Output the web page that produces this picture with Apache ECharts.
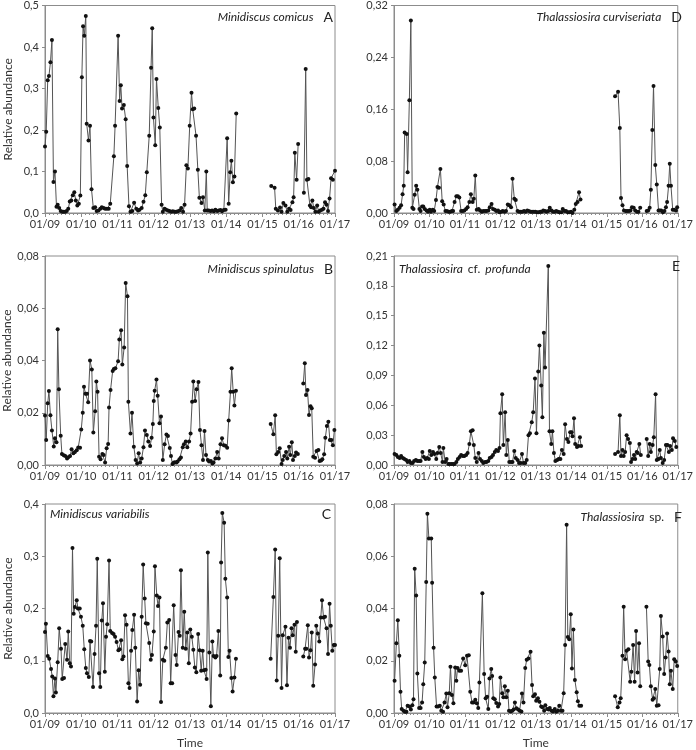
<!DOCTYPE html>
<html>
<head>
<meta charset="utf-8">
<script src="https://cdn.jsdelivr.net/npm/echarts@6/dist/echarts.min.js"></script>
<style>
html,body{margin:0;padding:0;background:#fff;}
#c{width:696px;height:750px;}
</style>
</head>
<body>
<div id="c"></div>
<script>
// Time in months since 01/2009; null marks a gap in sampling
const yearLabels = ['01/09','01/10','01/11','01/12','01/13','01/14','01/15','01/16','01/17'];

const comicus = [[0,0.16],[0.4,0.196],[0.9,0.32],[1.3,0.33],[1.8,0.363],[2.3,0.417],[2.8,0.075],[3.3,0.1],[3.8,0.015],[4.2,0.02],[4.7,0.012],[5.2,0.005],[5.7,0.003],[6.2,0.003],[6.7,0.003],[7.2,0.005],[7.7,0.01],[8.2,0.028],[8.7,0.03],[9.2,0.043],[9.7,0.05],[10.2,0.03],[10.7,0.018],[11.2,0.022],[11.7,0.042],[12.2,0.327],[12.6,0.45],[13,0.427],[13.5,0.475],[13.8,0.215],[14.4,0.175],[14.9,0.21],[15.4,0.057],[16,0.012],[16.6,0.014],[17.1,0.005],[17.7,0.006],[18.3,0.01],[18.8,0.014],[19.4,0.012],[19.9,0.01],[20.5,0.01],[21.1,0.01],[21.6,0.022],[22.8,0.137],[23.2,0.21],[24.2,0.427],[24.7,0.27],[25.1,0.308],[25.5,0.252],[26.1,0.26],[26.7,0.226],[27.2,0.113],[27.8,0.016],[28.3,0.003],[28.9,0.005],[29.5,0.025],[30.2,0.01],[30.8,0.006],[31.3,0.008],[32,0.012],[32.6,0.027],[33.2,0.043],[33.7,0.098],[34.5,0.186],[35.1,0.35],[35.5,0.445],[35.9,0.23],[36.5,0.163],[36.9,0.323],[37.5,0.253],[38,0.206],[38.6,0.02],[39,0.003],[39.6,0.01],[40.1,0.008],[40.7,0.006],[41.2,0.005],[41.8,0.003],[42.3,0.004],[42.9,0.003],[43.4,0.003],[44,0.004],[44.6,0.006],[45.1,0.012],[45.7,0.003],[46.2,0.02],[46.8,0.115],[47.3,0.107],[47.9,0.21],[48.5,0.29],[48.9,0.25],[49.4,0.252],[50,0.186],[50.6,0.104],[51.1,0.037],[51.8,0.024],[52.3,0.038],[52.9,0.006],[53.4,0.1],[53.7,0.006],[54.2,0.006],[54.8,0.005],[55.3,0.006],[55.9,0.004],[56.4,0.008],[57,0.005],[57.5,0.006],[58.1,0.007],[58.6,0.004],[59.2,0.007],[59.8,0.008],[60.3,0.18],[60.8,0.022],[61.3,0.098],[61.7,0.126],[62.2,0.074],[62.7,0.088],[63.3,0.24],[68,null],[74.9,0.065],[76,0.061],[76.4,0.01],[77.1,0.006],[77.8,0.013],[78.3,0.003],[78.9,0.024],[79.6,0.018],[80.2,0.003],[80.8,0.01],[81.3,0.007],[81.9,0.026],[82.3,0.038],[82.7,0.145],[83.3,0.08],[83.8,0.166],[84.7,null],[85.7,0.049],[86.3,0.347],[86.7,0.08],[87.2,0.082],[87.7,0.018],[88.1,0.014],[88.5,0.03],[89,0.012],[89.5,0.003],[90.1,0.018],[90.6,0.003],[91.1,0.006],[91.7,0.008],[92.2,0.01],[92.7,0.026],[93.2,0.02],[93.7,0.005],[94.2,0.035],[94.7,0.084],[95.3,0.08],[96,0.102]];

const spinulatus = [[0,0.0189],[0.4,0.0096],[0.9,0.0236],[1.3,0.0283],[1.8,0.019],[2.3,0.0132],[2.9,0.0071],[3.3,0.0102],[3.8,0.0087],[4.2,0.052],[4.6,0.029],[5.2,0.0112],[5.6,0.0042],[6.2,0.0037],[6.7,0.0034],[7.3,0.0025],[7.7,0.003],[8.3,0.0034],[8.8,0.006],[9.4,0.0045],[9.9,0.005],[10.5,0.0056],[11,0.0067],[11.6,0.0066],[12,0.0136],[12.5,0.02],[12.9,0.03],[13.4,0.0273],[13.9,0.0273],[14.3,0.024],[14.9,0.04],[15.5,0.0366],[16,0.0124],[16.6,0.0206],[17,0.032],[17.4,0.028],[17.9,0.0032],[18.4,0.0022],[19,0.0042],[19.4,0.0038],[19.9,0.001],[20.4,0.0064],[20.9,0.008],[21.2,0.022],[21.7,0.0287],[22.4,0.036],[22.8,0.0367],[23.3,0.037],[24.2,0.0397],[24.6,0.048],[25.2,0.0516],[25.6,0.0385],[26.2,0.045],[26.7,0.0697],[27.3,0.0646],[27.6,0.0242],[28.3,0.0121],[28.8,0.02],[29.4,0.007],[30,0.0019],[30.5,0.0006],[31,0.0045],[31.5,0.001],[32,0.0025],[32.6,0.0068],[33.1,0.0132],[33.7,0.0115],[34.2,0.009],[34.8,0.0073],[35.3,0.0104],[35.7,0.0157],[36,0.0245],[36.3,0.0284],[36.9,0.0327],[37.3,0.0265],[37.9,0.016],[38.4,0.0186],[39,0.0019],[39.6,0.0079],[40.2,0.0117],[40.7,0.0111],[41.3,0.0065],[41.7,0.0034],[42.2,0.0004],[42.6,0.0009],[43,0.0011],[43.5,0.001],[43.9,0.0013],[44.5,0.0022],[45,0.0029],[45.6,0.0068],[46,0.0079],[46.6,0.009],[47.1,0.0068],[47.7,0.009],[48.2,0.0121],[48.7,0.0242],[49.1,0.032],[49.7,0.0245],[50.2,0.029],[50.8,0.0318],[51.3,0.0134],[51.8,0.0076],[52.3,0.0019],[52.8,0.013],[53.3,0.0038],[53.9,0.0019],[54.3,0.0013],[54.9,0.0015],[55.4,0.0006],[55.8,0.001],[56.4,0.0025],[57,0.005],[57.5,0.0025],[58.1,0.0079],[58.6,0.0102],[59.2,0.0076],[59.7,0.0074],[60.3,0.0066],[60.8,0.017],[61.4,0.028],[61.8,0.037],[62.3,0.028],[62.7,0.0228],[63.2,0.0284],[68,null],[74.7,0.0157],[75.6,0.0118],[76.2,0.019],[76.6,0.0041],[77.2,0.005],[77.7,0.0064],[78.3,0.0004],[78.7,0.0019],[79.2,0.0034],[79.8,0.005],[80.2,0.0025],[80.8,0.007],[81.2,0.0038],[81.7,0.0087],[82.1,0.0019],[82.7,0.0034],[83.1,0.0048],[83.7,0.0042],[84.6,null],[85.5,0.0312],[86,0.0389],[86.4,0.0268],[86.9,0.0287],[87.4,0.0191],[87.9,0.0225],[88.3,0.0217],[88.8,0.0032],[89.4,0.0028],[89.9,0.0054],[90.5,0.0057],[90.9,0.0015],[91.4,0.0017],[91.8,0.0022],[92.4,0.0041],[92.8,0.0104],[93.3,0.0149],[93.8,0.0166],[94.3,0.0096],[94.8,0.0096],[95.3,0.0076],[95.8,0.0134]];

const variabilis = [[0,0.155],[0.3,0.171],[0.9,0.109],[1.4,0.104],[2,0.084],[2.4,0.07],[2.8,0.032],[3.3,0.066],[3.6,0.039],[4.2,0.097],[4.7,0.162],[5.3,0.123],[5.7,0.065],[6.3,0.067],[6.7,0.132],[7.3,0.102],[7.7,0.156],[8.2,0.095],[8.6,0.089],[9.1,0.316],[9.5,0.19],[9.9,0.203],[10.5,0.216],[10.9,0.2],[11.5,0.2],[11.9,0.184],[12.5,0.167],[13,0.122],[13.5,0.086],[13.9,0.076],[14.5,0.069],[14.9,0.138],[15.3,0.137],[15.9,0.05],[16.4,0.113],[16.9,0.167],[17.3,0.295],[17.9,0.076],[18.3,0.05],[18.8,0.177],[19.2,0.21],[19.8,0.079],[20.2,0.146],[20.6,0.17],[21.2,0.292],[21.6,0.157],[22.2,0.153],[22.7,0.151],[23.2,0.146],[23.7,0.136],[24.3,0.12],[24.7,0.122],[25.2,0.139],[25.6,0.103],[26,0.108],[26.5,0.187],[27,0.169],[27.6,0.057],[28,0.048],[28.5,0.119],[28.9,0.159],[29.5,0.188],[29.9,0.125],[30.5,0.022],[31,0.082],[31.5,0.054],[32,0.184],[32.5,0.284],[33,0.219],[33.4,0.172],[34,0.171],[34.5,0.134],[35,0.102],[35.4,0.111],[36,0.156],[36.4,0.281],[37,0.225],[37.4,0.205],[37.9,0.221],[38.4,0.021],[39,0.102],[39.5,0.1],[40,0.125],[40.5,0.173],[41.1,0.178],[41.6,0.057],[42.1,0.057],[42.6,0.206],[43.2,0.111],[43.6,0.092],[44.2,0.155],[44.6,0.148],[45,0.273],[45.6,0.125],[46.1,0.194],[46.6,0.123],[47.1,0.154],[47.6,0.095],[48.1,0.16],[48.6,0.146],[49.1,0.121],[49.6,0.087],[50.1,0.078],[50.7,0.151],[51.2,0.12],[51.7,0.081],[52.2,0.119],[52.6,0.082],[53.2,0.083],[53.5,0.065],[53.9,0.307],[54.4,0.116],[54.9,0.013],[55.4,0.137],[55.8,0.109],[56.4,0.106],[56.8,0.109],[57.4,0.157],[58,0.072],[58.3,0.288],[58.7,0.383],[59.3,0.364],[59.7,0.257],[60.3,0.221],[60.7,0.107],[61.1,0.119],[61.7,0.067],[62.1,0.041],[62.7,0.068],[63.2,0.104],[68,null],[74.7,0.104],[75.6,0.222],[76.2,0.313],[76.7,0.062],[77.2,0.148],[77.7,0.296],[78.3,0.048],[78.7,0.149],[79.6,0.165],[80.1,0.053],[80.6,0.144],[81.1,0.125],[81.6,0.162],[82,0.149],[82.6,0.169],[83,0.117],[83.4,0.174],[84.4,null],[85.5,0.108],[86.1,0.123],[86.5,0.123],[87,0.168],[87.4,0.106],[87.9,0.12],[88.3,0.154],[88.8,0.052],[89.4,0.093],[89.8,0.167],[90.3,0.152],[90.8,0.137],[91.3,0.183],[91.7,0.216],[92.2,0.183],[92.7,0.184],[93.2,0.162],[93.7,0.113],[94.2,0.209],[94.6,0.167],[95.1,0.119],[95.6,0.13],[96,0.13]];

const curviseriata = [[0.2,0.013],[0.8,0.003],[1.3,0.005],[1.9,0.008],[2.4,0.012],[2.9,0.029],[3.3,0.042],[3.6,0.124],[4.3,0.122],[4.6,0.063],[5.2,0.174],[5.7,0.297],[6.2,0.008],[6.6,0.006],[7,0.028],[7.5,0.042],[7.9,0.036],[8.6,0.006],[9,0.003],[9.5,0.01],[9.9,0.01],[10.4,0.006],[11,0.004],[11.5,0.002],[12.1,0.005],[12.5,0.002],[13.1,0.005],[13.6,0.003],[14.2,0.02],[14.7,0.04],[15.2,0.039],[15.7,0.068],[16.3,0.018],[16.8,0.013],[17.4,0.003],[17.9,0.003],[18.5,0.002],[19,0.002],[19.6,0.003],[20,0.003],[20.5,0.017],[21.1,0.026],[21.6,0.026],[22.1,0.024],[22.7,0.003],[23.3,0.003],[23.8,0.004],[24.4,0.006],[24.9,0.009],[25.5,0.017],[26,0.029],[26.6,0.017],[27,0.022],[27.5,0.058],[28,0.005],[28.6,0.006],[29.1,0.004],[29.7,0.002],[30.2,0.003],[30.8,0.003],[31.3,0.003],[31.9,0.004],[32.4,0.009],[33,0.014],[33.5,0.006],[34.1,0.005],[34.6,0.003],[35.2,0.004],[35.7,0.001],[36.3,0.002],[36.8,0.003],[37.4,0.002],[37.9,0.003],[38.5,0.013],[39,0.012],[39.6,0.009],[40.1,0.053],[40.7,0.022],[41.2,0.02],[41.8,0.003],[42.3,0.002],[42.9,0.002],[43.4,0.002],[44,0.003],[44.5,0.002],[45.1,0.004],[45.6,0.003],[46.2,0.002],[46.7,0.002],[47.3,0.002],[47.8,0.002],[48.4,0.001],[48.9,0.001],[49.5,0.002],[50,0.002],[50.5,0.004],[51.1,0.003],[51.6,0.002],[52.2,0.003],[52.7,0.008],[53.3,0.004],[53.8,0.002],[54.4,0.002],[54.9,0.003],[55.5,0.002],[56,0.001],[56.6,0.001],[57.1,0.006],[57.7,0.003],[58.2,0.003],[58.8,0.001],[59.3,0.001],[59.9,0.002],[60.4,0.0],[61,0.005],[61.5,0.014],[62.1,0.017],[62.6,0.032],[63.1,0.021],[68,null],[74.8,0.18],[75.8,0.187],[76.4,0.131],[76.8,0.023],[77.3,0.012],[77.8,0.004],[78.4,0.003],[78.9,0.003],[79.5,0.003],[80,0.004],[80.5,0.009],[81.1,0.008],[81.6,0.004],[82.2,0.002],[82.7,0.002],[83.3,0.008],[84.4,null],[85.5,0.003],[86,0.004],[86.5,0.008],[86.9,0.036],[87.4,0.128],[87.8,0.196],[88.4,0.074],[88.9,0.044],[89.5,0.004],[89.9,0.004],[90.4,0.004],[91,0.001],[91.5,0.003],[92,0.009],[92.4,0.017],[92.9,0.042],[93.3,0.076],[93.7,0.042],[94.3,0.005],[94.8,0.005],[95.4,0.004],[95.8,0.009]];

const profunda = [[0.2,0.011],[0.8,0.01],[1.3,0.008],[1.9,0.007],[2.4,0.009],[3,0.007],[3.5,0.006],[4.1,0.005],[4.6,0.003],[5.2,0.004],[5.7,0.002],[6.3,0.002],[6.8,0.004],[7.4,0.005],[7.9,0.004],[8.5,0.004],[9,0.004],[9.6,0.013],[10.1,0.008],[10.7,0.006],[11.2,0.007],[11.8,0.006],[12.1,0.014],[12.6,0.01],[13.2,0.013],[13.7,0.011],[14.3,0.006],[14.7,0.012],[15.3,0.018],[15.8,0.012],[16.4,0.003],[16.7,0.017],[17.3,0.003],[17.8,0.006],[18.4,0.001],[18.9,0.001],[19.5,0.001],[20,0.001],[20.5,0.001],[21.1,0.003],[21.6,0.006],[22.2,0.008],[22.7,0.01],[23.3,0.009],[23.8,0.009],[24.4,0.01],[24.9,0.012],[25.5,0.021],[26,0.034],[26.6,0.035],[27,0.02],[27.5,0.007],[28,0.003],[28.6,0.012],[29.1,0.006],[29.7,0.004],[30.2,0.002],[30.8,0.003],[31.3,0.003],[31.9,0.004],[32.4,0.007],[33,0.008],[33.5,0.01],[34.1,0.013],[34.6,0.015],[35.2,0.014],[35.7,0.017],[36,0.052],[36.6,0.071],[37,0.02],[37.6,0.053],[38,0.01],[38.5,0.025],[39,0.003],[39.6,0.003],[40.1,0.003],[40.7,0.014],[41.2,0.007],[41.8,0.005],[42.3,0.002],[42.9,0.002],[43.3,0.011],[43.8,0.002],[44.4,0.002],[44.9,0.005],[45.5,0.03],[46,0.032],[46.6,0.043],[47.1,0.053],[47.7,0.087],[48.2,0.032],[48.8,0.094],[49.2,0.12],[49.8,0.08],[50.2,0.048],[50.7,0.133],[51.1,0.098],[52.2,0.2],[52.6,0.034],[53.2,0.021],[53.6,0.034],[54.1,0.012],[54.6,0.004],[55.2,0.005],[55.7,0.006],[56.3,0.006],[56.8,0.015],[57.4,0.011],[57.9,0.041],[58.5,0.026],[59,0.023],[59.6,0.033],[60.1,0.033],[60.4,0.029],[60.9,0.047],[61.3,0.021],[61.9,0.018],[62.4,0.019],[62.9,0.028],[63.3,0.019],[68,null],[74.8,0.011],[75.8,0.013],[76.4,0.05],[76.8,0.009],[77.3,0.015],[77.7,0.009],[78.2,0.013],[78.7,0.03],[79.2,0.026],[79.8,0.022],[80.2,0.003],[80.7,0.006],[81.2,0.01],[81.6,0.006],[82.1,0.013],[82.5,0.012],[83,0.021],[83.5,0.01],[84.5,null],[85.5,0.026],[86,0.009],[86.5,0.021],[86.9,0.013],[87.5,0.02],[87.9,0.028],[88.5,0.071],[88.9,0.005],[89.5,0.006],[89.9,0.015],[90.3,0.007],[90.9,0.002],[91.4,0.005],[92,0.02],[92.5,0.02],[93,0.013],[93.4,0.019],[94,0.015],[94.4,0.027],[95,0.024],[95.5,0.018]];

const thalSp = [[0.2,0.0123],[0.8,0.0267],[1.3,0.0355],[1.8,0.0219],[2.2,0.0081],[2.6,0.0015],[3.2,0.0009],[3.7,0.0005],[4.2,0.0005],[4.6,0.0028],[5.2,0.0025],[5.7,0.0013],[6.2,0.003],[6.6,0.0053],[7,0.0552],[7.5,0.045],[7.9,0.0151],[8.5,0.0019],[9,0.0019],[9.5,0.004],[9.9,0.011],[10.4,0.0193],[10.9,0.0501],[11.3,0.0763],[11.8,0.0668],[12.6,0.0668],[12.9,0.0499],[13.4,0.025],[13.8,0.0136],[14.4,0.0025],[14.9,0.0025],[15.5,0.0028],[16,0.0009],[16.6,0.0005],[17.1,0.004],[17.7,0.0075],[18.1,0.0022],[18.7,0.0076],[19.1,0.0177],[19.6,0.0069],[20.1,0.0037],[20.7,0.0174],[21.1,0.0123],[21.5,0.0172],[22.1,0.0162],[22.7,0.0162],[23.4,0.0209],[24.1,0.0183],[24.7,0.0219],[25.3,0.0221],[25.8,0.0081],[26.4,0.004],[26.9,0.004],[27.5,0.0051],[28,0.0037],[28.5,0.0019],[28.9,0.0117],[29.9,0.0458],[30.5,0.0149],[31,0.0056],[31.5,0.0062],[31.9,0.0015],[32.3,0.0132],[32.9,0.0168],[33.2,0.0142],[33.6,0.0056],[34.1,0.0053],[34.6,0.0038],[35.2,0.0025],[35.6,0.0034],[36,0.0136],[36.6,0.0076],[37,0.006],[37.5,0.0102],[38,0.006],[38.5,0.0085],[38.9,0.0009],[39.5,0.0006],[40,0.0009],[40.5,0.0013],[40.9,0.004],[41.4,0.0018],[42,0.0013],[42.5,0.0009],[43.1,0.0006],[43.3,0.0075],[43.8,0.004],[44.4,0.0172],[44.9,0.0204],[45.5,0.0209],[46.2,0.0234],[46.7,0.0107],[47.1,0.0064],[47.7,0.0072],[48.1,0.0047],[48.7,0.0056],[49.2,0.0043],[49.8,0.0025],[50.2,0.0022],[50.8,0.0009],[51.2,0.003],[51.8,0.0015],[52.3,0.0013],[52.7,0.0019],[53.3,0.0009],[53.8,0.0006],[54.4,0.0015],[54.9,0.0005],[55.5,0.0009],[55.9,0.0028],[56.5,0.0009],[57,0.0009],[57.4,0.0076],[57.9,0.026],[58.4,0.0721],[58.8,0.0291],[59.3,0.0282],[59.8,0.0378],[60.2,0.017],[60.7,0.032],[61.2,0.0126],[61.8,0.0079],[62.2,0.0045],[62.7,0.0028],[63.3,0.0028],[68,null],[74.8,0.0064],[75.7,0.0022],[76.3,0.004],[76.7,0.0056],[77.3,0.0219],[77.7,0.0407],[78.2,0.0206],[78.7,0.0238],[79.3,0.0244],[79.9,0.012],[80.3,0.0158],[80.9,0.026],[81.4,0.012],[81.9,0.0314],[82.4,0.0155],[82.9,0.0267],[83.3,0.0102],[84.4,null],[85.4,0.0407],[86,0.0197],[86.4,0.0184],[86.9,0.0102],[87.5,0.0051],[87.9,0.0056],[88.4,0.0092],[88.9,0.0028],[89.5,0.003],[89.9,0.0168],[90.3,0.0371],[90.9,0.0293],[91.4,0.0149],[91.9,0.0212],[92.4,0.0304],[92.9,0.0235],[93.3,0.011],[93.7,0.0162],[94.3,0.0092],[94.8,0.0206],[95.3,0.0197],[95.8,0.018]];

const FONT = 'Lato';
const AX = '#8c8c8c';
const LBL = '#333';

const panels = [
  {data: comicus, max: 0.5, interval: 0.1, dec: 1, grid: 0},
  {data: spinulatus, max: 0.08, interval: 0.02, dec: 2, grid: 1},
  {data: variabilis, max: 0.4, interval: 0.1, dec: 1, grid: 2},
  {data: curviseriata, max: 0.32, interval: 0.08, dec: 2, grid: 3},
  {data: profunda, max: 0.21, interval: 0.03, dec: 2, grid: 4},
  {data: thalSp, max: 0.08, interval: 0.02, dec: 2, grid: 5}
];

const grids = [
  {left: 45, top: 4, width: 290, height: 209},
  {left: 45, top: 256, width: 290, height: 209},
  {left: 45, top: 504, width: 290, height: 210},
  {left: 394, top: 4, width: 291, height: 209},
  {left: 394, top: 256, width: 291, height: 209},
  {left: 394, top: 504, width: 291, height: 210}
].map(g => Object.assign({show: true, borderColor: AX, borderWidth: 1, backgroundColor: 'transparent'}, g));

const xAxes = grids.map((g, i) => ({
  type: 'value', gridIndex: i, min: 0, max: 96, interval: 12,
  axisLine: {show: true, lineStyle: {color: AX}},
  axisTick: {show: true, length: 4, lineStyle: {color: AX}},
  minorTick: {show: true, splitNumber: 9, length: 2, lineStyle: {color: AX}},
  splitLine: {show: false},
  axisLabel: {color: LBL, fontFamily: FONT, fontSize: 11, margin: 6,
    formatter: v => yearLabels[Math.round(v / 12)]},
  name: (i === 2 || i === 5) ? 'Time' : '',
  nameLocation: 'middle', nameGap: 24,
  nameTextStyle: {color: LBL, fontFamily: FONT, fontSize: 12}
}));

const yAxes = panels.map((p, i) => ({
  type: 'value', gridIndex: p.grid, min: 0, max: p.max, interval: p.interval,
  axisLine: {show: true, lineStyle: {color: AX}},
  axisTick: {show: true, length: 3, lineStyle: {color: AX}},
  splitLine: {show: false},
  axisLabel: {color: LBL, fontFamily: FONT, fontSize: 11, margin: 6,
    formatter: v => v.toFixed(p.dec).replace('.', ',')},
  name: p.grid < 3 ? 'Relative abundance' : '',
  nameLocation: 'middle', nameGap: 31, nameRotate: 90,
  nameTextStyle: {color: LBL, fontFamily: FONT, fontSize: 12}
}));

const series = panels.map(p => ({
  type: 'line', xAxisIndex: p.grid, yAxisIndex: p.grid,
  data: p.data.map(d => [d[0], d[1] === null ? '-' : d[1]]),
  connectNulls: false,
  symbol: 'circle', symbolSize: 4, showSymbol: true,
  itemStyle: {color: '#111'},
  lineStyle: {color: '#555', width: 1},
  animation: false
}));

const it = {fontFamily: FONT, fontStyle: 'italic', fontWeight: 'normal', fontSize: 12, color: '#222'};
const nr = {fontFamily: FONT, fontWeight: 'normal', fontSize: 12, color: '#222'};
const lt = {fontFamily: FONT, fontWeight: 'normal', fontSize: 14, color: '#222'};
function t(text, pos) {
  return Object.assign({text: text, textStyle: {fontWeight: 'normal', rich: {i: it, n: nr, l: lt}}}, pos);
}
const titles = [
  t('{i|Minidiscus comicus}  {l|A}', {right: 363, top: 8}),
  t('{i|Minidiscus spinulatus}  {l|B}', {right: 363, top: 260}),
  t('{i|Minidiscus variabilis}', {left: 50, top: 508}),
  t('{l|C}', {right: 365, top: 507}),
  t('{i|Thalassiosira curviseriata}  {l|D}', {right: 14, top: 8}),
  t('{i|Thalassiosira} {n|cf.} {i|profunda}', {left: 399, top: 260}),
  t('{l|E}', {right: 16, top: 259}),
  t('{i|Thalassiosira} {n|sp.}  {l|F}', {right: 14, top: 508})
].map(o => Object.assign({padding: 0}, o));

const chart = echarts.init(document.getElementById('c'), null, {renderer: 'canvas'});
chart.setOption({
  animation: false,
  backgroundColor: '#fff',
  title: titles,
  grid: grids,
  xAxis: xAxes,
  yAxis: yAxes,
  series: series
});
</script>
</body>
</html>
